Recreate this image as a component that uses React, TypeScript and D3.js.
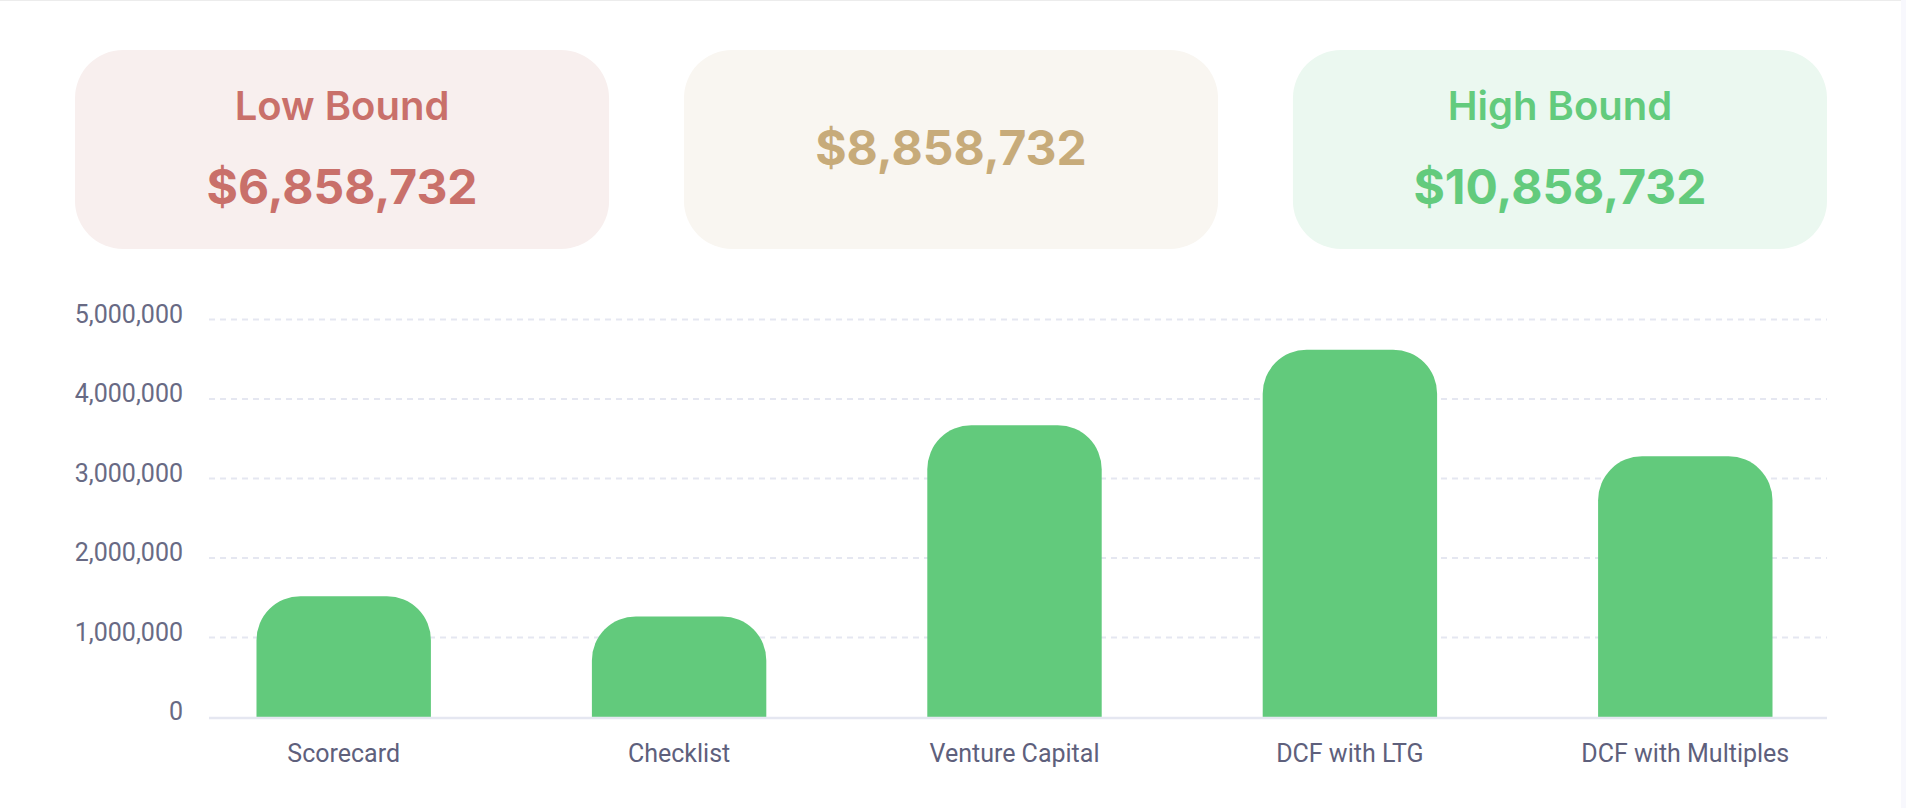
import React from 'react';
import * as d3 from 'd3';

// summary cards
const cardTitles = ['Low Bound', '', 'High Bound'];
const cardValues = [6858732, 8858732, 10858732];
const cardBg = ['#f8efee', '#f9f6f1', '#ebf8f0'];
const cardInk = ['#c9706a', '#c7ab7a', '#63cb7d'];

// bar chart
const methods = ['Scorecard', 'Checklist', 'Venture Capital', 'DCF with LTG', 'DCF with Multiples'];
const valuations = [1520000, 1265000, 3670000, 4620000, 3280000];
const yTicks = [0, 1000000, 2000000, 3000000, 4000000, 5000000];

const W = 1906;
const H = 808;

// path for a bar with rounded top corners only
const topRounded = (x: number, y: number, w: number, h: number, r: number) => {
  const rr = Math.min(r, w / 2, h);
  return `M${x},${y + h}V${y + rr}A${rr},${rr} 0 0 1 ${x + rr},${y}H${x + w - rr}A${rr},${rr} 0 0 1 ${x + w},${y + rr}V${y + h}Z`;
};

const App = () => {
  const money = d3.format('$,');
  const comma = d3.format(',');

  const cardX = d3.scaleBand<number>().domain([0, 1, 2]).range([75, 1827]).paddingInner(0.123);

  const x = d3.scaleBand<string>().domain(methods).range([176, 1853]).paddingInner(0.48).paddingOuter(0.24);
  const y = d3.scaleLinear().domain([0, 5000000]).range([717, 319.5]);
  const gridLeft = 209;
  const gridRight = 1827;

  return (
    <svg width={W} height={H} style={{ position: 'absolute', left: 0, top: 0, background: '#fff' }}>
      <line x1={0} x2={1901} y1={0.5} y2={0.5} stroke="#ececec" />
      <rect x={1901} y={0} width={5} height={H} fill="#f8f8fd" />

      {cardValues.map((v, i) => {
        const cx = cardX(i)! + cardX.bandwidth() / 2;
        const hasTitle = cardTitles[i] !== '';
        return (
          <g key={i}>
            <rect x={cardX(i)} y={50} width={cardX.bandwidth()} height={199} rx={48} fill={cardBg[i]} />
            {hasTitle && (
              <text x={cx} y={120} textAnchor="middle" fill={cardInk[i]}
                style={{ fontFamily: 'Inter, sans-serif', fontWeight: 600, fontSize: 40 }}>
                {cardTitles[i]}
              </text>
            )}
            <text x={cx} y={hasTitle ? 204 : 165} textAnchor="middle" fill={cardInk[i]}
              style={{ fontFamily: 'Inter, sans-serif', fontWeight: 700, fontSize: 48 }}>
              {money(v)}
            </text>
          </g>
        );
      })}

      {yTicks.filter((t) => t > 0).map((t) => (
        <line key={t} x1={gridLeft} x2={gridRight} y1={y(t)} y2={y(t)}
          stroke="#e5e7f1" strokeWidth={2} strokeDasharray="6 5" />
      ))}

      {yTicks.map((t) => (
        <text key={t} x={183} y={y(t) + 3} textAnchor="end" fill="#686a84"
          style={{ fontFamily: 'Roboto, sans-serif', fontSize: 25 }}>
          {comma(t)}
        </text>
      ))}

      {methods.map((m, i) => (
        <path key={m} d={topRounded(x(m)!, y(valuations[i]), x.bandwidth(), y(0) - y(valuations[i]), 44)} fill="#62ca7c" />
      ))}

      <line x1={gridLeft} x2={gridRight} y1={y(0) + 1} y2={y(0) + 1} stroke="#e5e7f1" strokeWidth={2.5} />

      {methods.map((m) => (
        <text key={m} x={x(m)! + x.bandwidth() / 2} y={762} textAnchor="middle" fill="#5e607c"
          style={{ fontFamily: 'Roboto, sans-serif', fontSize: 25 }}>
          {m}
        </text>
      ))}
    </svg>
  );
};

export default App;
